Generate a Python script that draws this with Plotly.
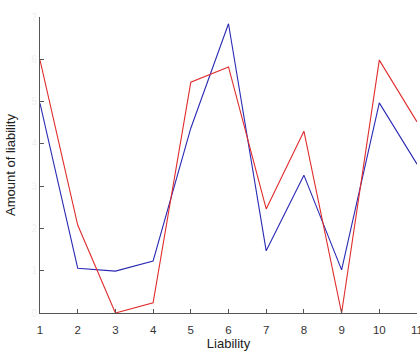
import plotly.graph_objects as go

liability = [1, 2, 3, 4, 5, 6, 7, 8, 9, 10, 11]
series_blue = [4.96, 1.06, 0.99, 1.23, 4.37, 6.84, 1.47, 3.26, 1.02, 4.97, 3.52]
series_red = [5.98, 2.08, 0.0, 0.24, 5.46, 5.82, 2.46, 4.30, 0.0, 5.98, 4.52]
x_ticks = [1, 2, 3, 4, 5, 6, 7, 8, 9, 10, 11]
y_ticks = [0, 1, 2, 3, 4, 5, 6, 7]

fig = go.Figure()
fig.add_trace(go.Scatter(x=liability, y=series_blue, mode="lines",
                         line=dict(color="#2a2ab4", width=1.1), showlegend=False))
fig.add_trace(go.Scatter(x=liability, y=series_red, mode="lines",
                         line=dict(color="#e02c2c", width=1.1), showlegend=False))

axis_col = "#555555"
fig.update_layout(
    width=420, height=352,
    margin=dict(l=40, r=3, t=17, b=39),
    paper_bgcolor="white", plot_bgcolor="white",
    font=dict(family="Liberation Sans, Arial, sans-serif", size=11, color="#333333"),
    xaxis=dict(range=[1, 11], tickvals=x_ticks, showgrid=False, zeroline=False,
               showline=True, linecolor=axis_col, linewidth=1, automargin=False,
               ticks="inside", ticklen=4, tickcolor=axis_col, ticklabelstandoff=6,
               ticklabeloverflow="allow",
               tickfont=dict(size=11.5, color="#333333"),
               title=dict(text="Liability", font=dict(size=13, color="#222222"), standoff=2)),
    yaxis=dict(range=[0, 7], tickvals=y_ticks, showgrid=False, zeroline=False,
               showline=True, linecolor=axis_col, linewidth=1, automargin=False,
               ticks="inside", ticklen=4, tickcolor=axis_col,
               tickfont=dict(size=10, color="#f0f0f0"),
               title=dict(text="Amount of liability", font=dict(size=13, color="#222222"), standoff=12)),
)

fig.write_html("out.html", config={"displayModeBar": False},
               post_script="document.body.style.margin='0';")
